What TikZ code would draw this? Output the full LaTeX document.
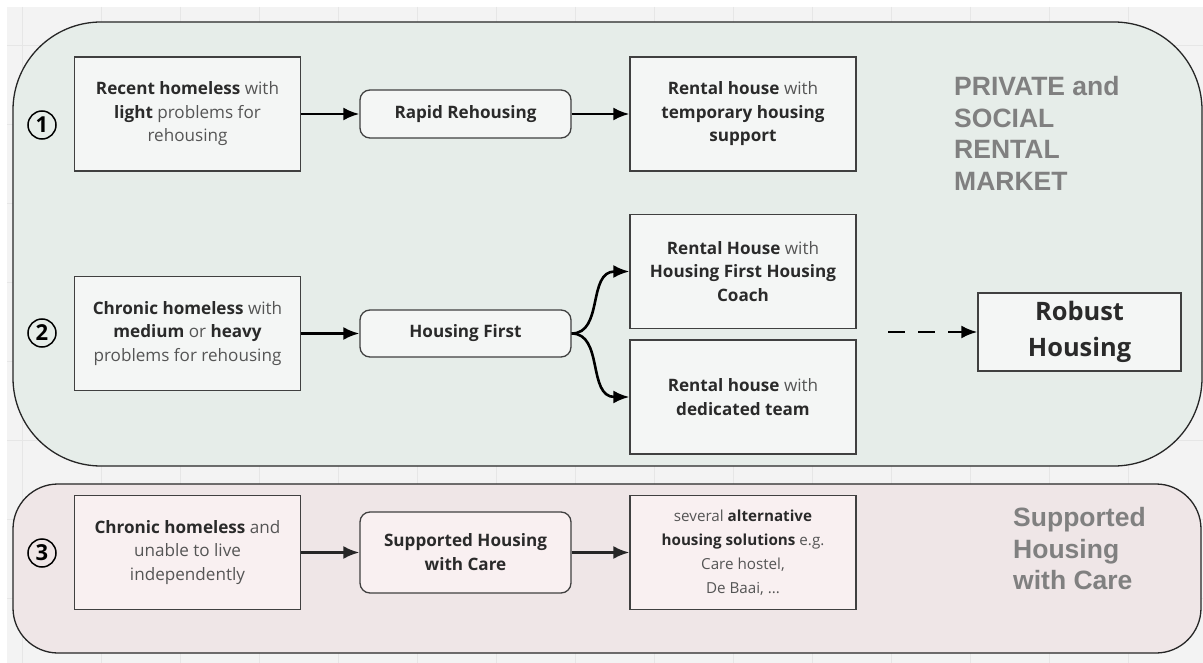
\documentclass[tikz,border=0pt]{standalone}
\usepackage{fontspec}
\setmainfont{Open Sans}
\newfontfamily\labelfont{Liberation Sans}
\usetikzlibrary{arrows.meta}
\definecolor{bggray}{HTML}{F3F3F3}
\definecolor{gridc}{HTML}{E6E6E6}
\definecolor{greenreg}{HTML}{E6EDE9}
\definecolor{greenbox}{HTML}{F4F6F5}
\definecolor{pinkreg}{HTML}{EFE6E7}
\definecolor{pinkbox}{HTML}{F9F0F1}
\definecolor{txt}{HTML}{555555}
\definecolor{btxt}{HTML}{2A2A2A}
\definecolor{lbl}{HTML}{808080}
\newcommand\B[1]{\textbf{\color{btxt}#1}}
\tikzset{
  region/.style={draw=black!85, line width=1.3pt},
  box/.style={draw=black!75, line width=1.3pt, minimum width=226pt, minimum height=114pt,
    inner sep=0pt, align=center, text=txt, font=\fontsize{17.1}{23.5}\selectfont},
  pill/.style={draw=black!75, line width=1.3pt, rounded corners=10pt, minimum width=211pt,
    inner sep=0pt, align=center, text=btxt, font=\fontsize{17.1}{24}\selectfont\bfseries},
  arr/.style={-{Latex[length=16pt,width=13pt]}, line width=2.6pt},
  numc/.style={draw=black, line width=1.5pt, circle, minimum size=28pt, inner sep=0pt,
    font=\fontsize{22}{22}\selectfont\bfseries},
  biglbl/.style={anchor=north west, align=left, text=lbl, inner sep=0pt,
    font=\labelfont\fontsize{26.5}{31.7}\selectfont\bfseries}
}
\begin{document}
\begin{tikzpicture}[x=1pt,y=-1pt]
\useasboundingbox (0,0) rectangle (1203,663);
\fill[white] (0,0) rectangle (1203,663);
\fill[bggray] (7,7) rectangle (1203,663);
\foreach \gx in {22,101,180,259,338,417,496,575,654,733,812,891,970,1049,1128} {
  \draw[gridc, line width=0.8pt] (\gx,7) -- (\gx,663);
}
\foreach \gy in {45,124,203,282,361,440,519,598} {
  \draw[gridc, line width=0.8pt] (7,\gy) -- (1203,\gy);
}
% regions
\draw[region, fill=greenreg, rounded corners=88pt] (13,22) rectangle (1202,466);
\draw[region, fill=pinkreg, rounded corners=45pt] (13,484) rectangle (1201,653);

% labels
\node[biglbl] (lblA) at (954,76) {PRIVATE and\\SOCIAL\\RENTAL\\MARKET};
\node[biglbl] (lblB) at (1013,507) {Supported\\Housing\\with Care};

% numbers
\node[numc] (n1) at (42,125) {1};
\node[numc] (n2) at (42,333) {2};
\node[numc] (n3) at (42,553) {3};

% row 1
\node[box, fill=greenbox] (a1) at (187.5,114) {\B{Recent homeless} with\\\B{light} problems for\\rehousing};
\node[pill, fill=greenbox, minimum height=48pt] (p1) at (465.5,114) {Rapid Rehousing};
\node[box, fill=greenbox] (r1) at (743,114) {\B{Rental house} with\\\B{temporary housing}\\\B{support}};

% row 2
\node[box, fill=greenbox] (a2) at (187.5,333.5) {\B{Chronic homeless} with\\\B{medium} or \B{heavy}\\problems for rehousing};
\node[pill, fill=greenbox, minimum height=47pt] (p2) at (465.5,333.5) {Housing First};
\node[box, fill=greenbox] (r2a) at (743,271.5) {\B{Rental House} with\\\B{Housing First Housing}\\\B{Coach}};
\node[box, fill=greenbox] (r2b) at (743,397) {\B{Rental house} with\\\B{dedicated team}};
\node[draw=black!75, line width=1.3pt, fill=greenbox, minimum width=203pt, minimum height=78pt,
  inner sep=0pt, align=center, text=btxt, font=\fontsize{25.4}{36}\selectfont\bfseries] (rob) at (1079.5,332) {Robust\\Housing};

% row 3
\node[box, fill=pinkbox] (a3) at (187.5,552.5) {\B{Chronic homeless} and\\unable to live\\independently};
\node[pill, fill=pinkbox, minimum height=81pt] (p3) at (465.5,552.5) {Supported Housing\\with Care};
\node[box, fill=pinkbox, font=\fontsize{15.2}{24}\selectfont] (r3) at (743,552.5) {several \B{alternative}\\\B{housing solutions} e.g.\\Care hostel,\\De Baai, ...};

% connectors
\draw[arr] (a1) -- (p1);
\draw[arr] (p1) -- (r1);
\draw[arr] (a2) -- (p2);
\draw[arr] (p2.east) .. controls +(32,0) and +(-42,0) .. (r2a.west);
\draw[arr] (p2.east) .. controls +(32,0) and +(-42,0) .. (r2b.west);
\coordinate (dstart) at (888,332);
\draw[arr, dash pattern=on 17pt off 13pt] (dstart) -- (rob.west);
\draw[arr, draw=black!85] (a3) -- (p3);
\draw[arr, draw=black!85] (p3) -- (r3);
\end{tikzpicture}
\end{document}
